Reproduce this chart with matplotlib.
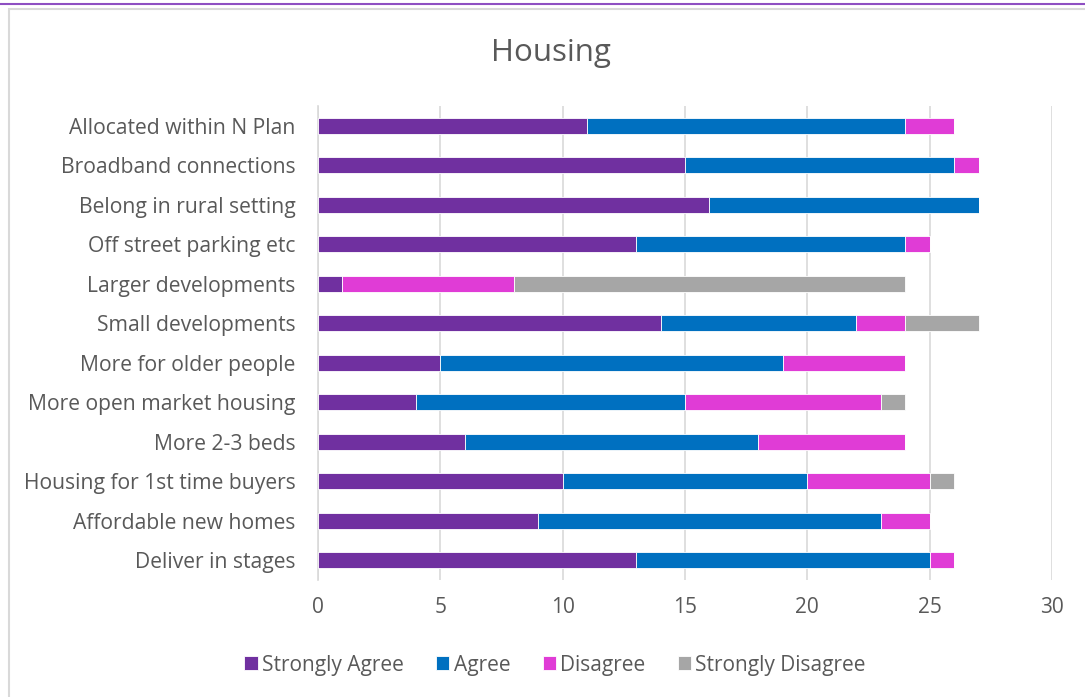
import numpy as np
import matplotlib
matplotlib.use("Agg")
import matplotlib.pyplot as plt
from matplotlib.patches import Rectangle

# ===== DATA =====
categories = [
    "Allocated within N Plan",
    "Broadband connections",
    "Belong in rural setting",
    "Off street parking etc",
    "Larger developments",
    "Small developments",
    "More for older people",
    "More open market housing",
    "More 2-3 beds",
    "Housing for 1st time buyers",
    "Affordable new homes",
    "Deliver in stages",
]
strongly_agree = [11, 15, 16, 13, 1, 14, 5, 4, 6, 10, 9, 13]
agree = [13, 11, 11, 11, 0, 8, 14, 11, 12, 10, 14, 12]
disagree = [2, 1, 0, 1, 7, 2, 5, 8, 6, 5, 2, 1]
strongly_disagree = [0, 0, 0, 0, 16, 3, 0, 1, 0, 1, 0, 0]

series_names = ["Strongly Agree", "Agree", "Disagree", "Strongly Disagree"]
series_colors = ["#7030A0", "#0070C0", "#E03CD6", "#A6A6A6"]
x_ticks = [0, 5, 10, 15, 20, 25, 30]

plt.rcParams['font.family'] = ['Open Sans', 'DejaVu Sans']
text_color = "#595959"

fig = plt.figure(figsize=(10.85, 6.97), dpi=100)
ax = fig.add_axes([318 / 1085, 1 - 580 / 697, (1052 - 318) / 1085, (580 - 106) / 697])

y = np.arange(len(categories))
left = np.zeros(len(categories))
for vals, name, col in zip([strongly_agree, agree, disagree, strongly_disagree], series_names, series_colors):
    ax.barh(y, vals, left=left, height=0.41, color=col, label=name,
            edgecolor="white", linewidth=0.6, zorder=3)
    left += np.array(vals)

ax.set_ylim(len(categories) - 0.5, -0.5)
ax.set_xlim(0, 30)
ax.set_xticks(x_ticks)
ax.set_yticks(y)
ax.set_yticklabels(categories, fontsize=15.2, color=text_color)
ax.tick_params(axis='x', labelsize=15, labelcolor=text_color, length=0, pad=12)
ax.tick_params(axis='y', length=0, pad=16)
ax.grid(True, axis='x', color="#D9D9D9", linewidth=1.2, zorder=0)
for s in ["top", "right", "bottom"]:
    ax.spines[s].set_visible(False)
ax.spines["left"].set_color("#D9D9D9")
ax.spines["left"].set_linewidth(1.2)

fig.text(551 / 1085, 1 - 53 / 697, "Housing", ha="center", va="center",
         fontsize=22.5, color=text_color)

handles, labels = ax.get_legend_handles_labels()
fig.legend(handles, labels, loc="center", bbox_to_anchor=(555 / 1085, 1 - 665 / 697),
           ncol=4, frameon=False, fontsize=15, labelcolor=text_color,
           handlelength=0.65, handleheight=0.65, handletextpad=0.2, columnspacing=1.55)

# chart area border and top line
fig.patches.append(Rectangle((9 / 1085, -0.01), 1.02, 1 - 9 / 697 + 0.01, transform=fig.transFigure,
                             fill=False, edgecolor="#D9D9D9", linewidth=1.5))
fig.lines.append(plt.Line2D([0, 1], [1 - 4 / 697, 1 - 4 / 697], transform=fig.transFigure,
                            color="#8E4FC2", linewidth=1.5))

fig.savefig("out.png", dpi=100)
